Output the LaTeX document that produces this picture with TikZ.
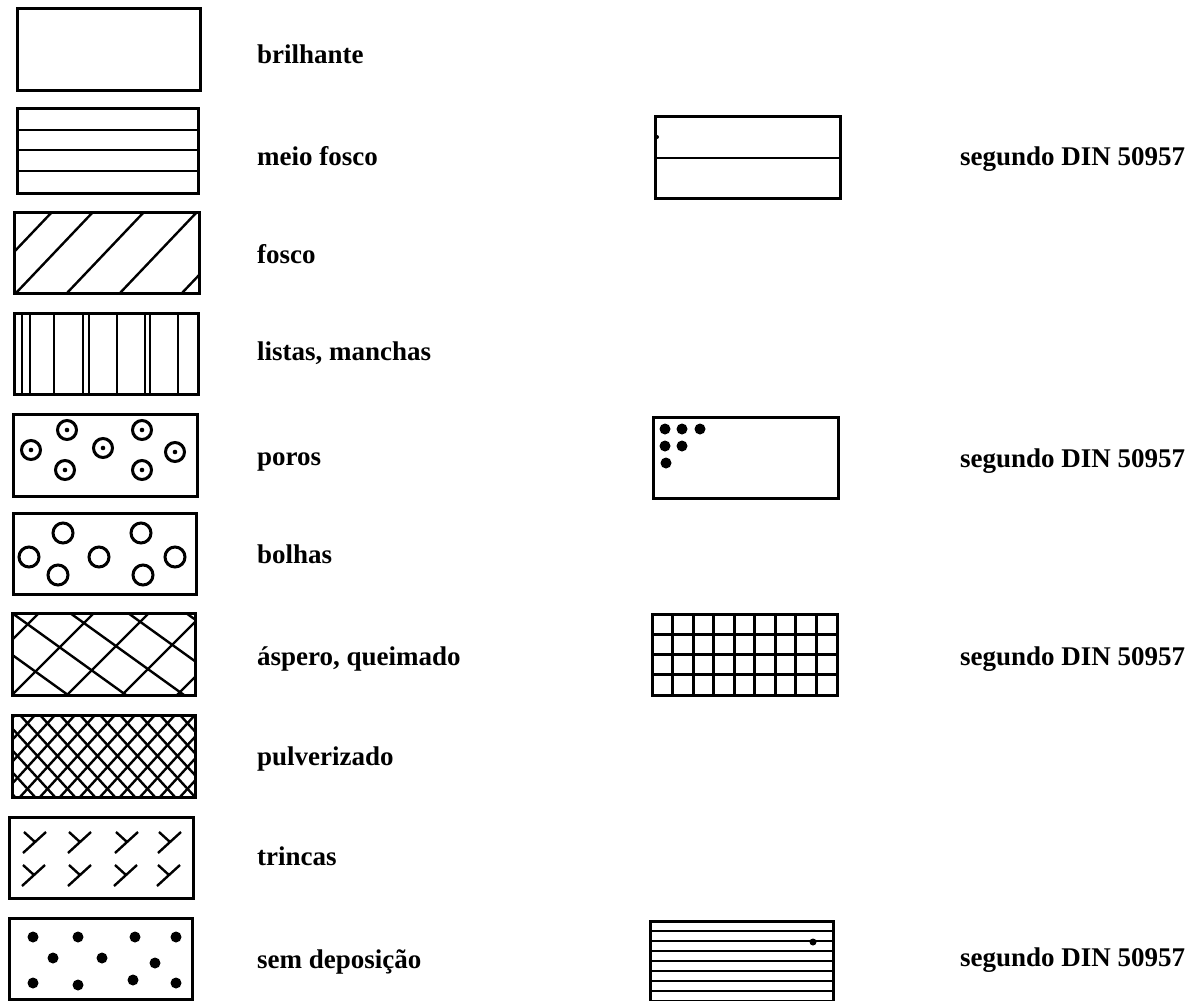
\documentclass[tikz,border=0pt]{standalone}
\usepackage{fontspec}
\newfontfamily\lblfont{Liberation Serif}
\begin{document}
\begin{tikzpicture}[x=1pt,y=-1pt,
  box/.style={line width=3pt},
  hatch/.style={line width=2.4pt},
  ring/.style={line width=3pt},
  lbl/.style={anchor=base west, inner sep=0pt, font=\lblfont\bfseries\fontsize{27}{29}\selectfont}]
\useasboundingbox (0,0) rectangle (1202,1001);
\clip (0,0) rectangle (1202,1001);
% 1 brilhante
\draw[box] (17,8) rectangle (200,90);
% 2 meio fosco
\foreach \y in {130,150,171} \draw[hatch] (17,\y) -- (198,\y);
\draw[box] (17,108) rectangle (198,193);
% 3 fosco
\begin{scope}
\clip (14,212) rectangle (199,293);
\foreach \b in {-25,16,67,120,182} \draw[hatch] (\b,293) -- ++(77,-81);
\end{scope}
\draw[box] (14,212) rectangle (199,293);
% 4 listas
\foreach \x in {22,30,54,83,89,117,145,150,178} \draw[hatch] (\x,313) -- (\x,394);
\draw[box] (14,313) rectangle (198,394);
% 5 poros
\draw[box] (13,414) rectangle (197,496);
\foreach \p in {(31,450),(67,430),(65,470),(103,448),(142,430),(142,470),(175,452)} {
  \draw[ring] \p circle[radius=9.5];
  \fill \p circle[radius=2.3];
}
% 6 bolhas
\draw[box] (13,513) rectangle (196,594);
\foreach \p in {(29,557),(63,533),(58,575),(99,557),(141,533),(143,575),(175,557)}
  \draw[ring] \p circle[radius=10];
% 7 aspero
\begin{scope}
\clip (12,613) rectangle (195,695);
\foreach \b in {-43,12,67,122,177} \draw[hatch] (\b,695) -- ++(82,-82);
\foreach \t in {-104,-46,12,70,128,186} \draw[hatch] (\t,613) -- ++(114,82);
\end{scope}
\draw[box] (12,613) rectangle (195,695);
% 8 pulverizado
\begin{scope}
\clip (12,715) rectangle (195,797);
\foreach \b in {-80,-60,...,200} \draw[hatch] (\b,797) -- ++(75,-82);
\foreach \t in {-80,-60,...,200} \draw[hatch] (\t,715) -- ++(75,82);
\end{scope}
\draw[box] (12,715) rectangle (195,797);
% 9 trincas
\draw[box] (9,817) rectangle (193,898);
\foreach \j in {(35,842),(80,842),(127,842),(170,842),(34,875),(80,875),(126,875),(169,875)} {
  \draw[hatch] \j ++(-12,11) -- ++(23,-21);
  \draw[hatch] \j ++(-11,-10) -- ++(11,10);
}
% 10 sem deposicao
\draw[box] (9,918) rectangle (192,999);
\foreach \p in {(33,937),(78,937),(135,937),(176,937),(53,958),(102,958),(155,963),(33,983),(78,985),(133,980),(176,983)}
  \fill \p circle[radius=5.5];
% right 1
\draw[hatch] (655,158) -- (840,158);
\draw[box] (655,116) rectangle (840,198);
\fill (657,137) circle[radius=2];
% right 2
\draw[box] (653,417) rectangle (838,498);
\foreach \p in {(665,429),(682,429),(700,429),(665,446),(682,446),(666,463)}
  \fill \p circle[radius=5.5];
% right 3
\foreach \k in {1,...,8} \draw[box] ({652+\k*185/9},614) -- ({652+\k*185/9},695);
\foreach \k in {1,2,3} \draw[box] (652,{614+\k*20.25}) -- (837,{614+\k*20.25});
\draw[box] (652,614) rectangle (837,695);
% right 4
\foreach \k in {1,...,8} \draw[hatch] (650,{921+\k*10}) -- (833,{921+\k*10});
\draw[box] (650,1010) -- (650,921) -- (833,921) -- (833,1010);
\fill (813,942) circle[radius=3.5];
% labels
\node[lbl] (l1) at (257,63) {brilhante};
\node[lbl] (l2) at (257,165) {meio fosco};
\node[lbl] (l3) at (257,263) {fosco};
\node[lbl] (l4) at (257,360) {listas, manchas};
\node[lbl] (l5) at (257,465) {poros};
\node[lbl] (l6) at (257,563) {bolhas};
\node[lbl] (l7) at (257,665) {áspero, queimado};
\node[lbl] (l8) at (257,765) {pulverizado};
\node[lbl] (l9) at (257,865) {trincas};
\node[lbl] (l10) at (257,968) {sem deposição};
\node[lbl] (r1) at (960,165) {segundo DIN 50957};
\node[lbl] (r2) at (960,467) {segundo DIN 50957};
\node[lbl] (r3) at (960,665) {segundo DIN 50957};
\node[lbl] (r4) at (960,966) {segundo DIN 50957};
\end{tikzpicture}
\end{document}
